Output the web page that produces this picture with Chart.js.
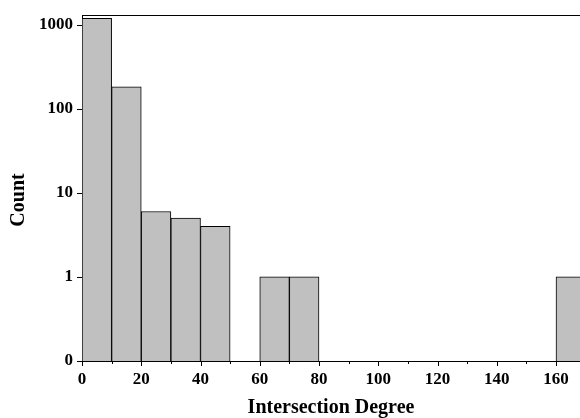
<!DOCTYPE html>
<html>
<head>
<meta charset="utf-8">
<script src="https://cdn.jsdelivr.net/npm/chart.js@4/dist/chart.umd.min.js"></script>
<style>
html,body{margin:0;padding:0;background:#fff;}
#wrap{width:580px;height:418px;}
</style>
</head>
<body>
<div id="wrap"><canvas id="c" width="580" height="418"></canvas></div>
<script>
// Histogram bins (start of each 10-wide bin) and counts
const binStarts = [0, 10, 20, 30, 40, 60, 70, 160];
const binWidth = 10;
const counts = [1190, 182, 6, 5, 4, 1, 1, 1];
// y tick labels (decades, with 0 one step below 1)
const yTickLabels = ['0', '1', '10', '100', '1000'];
const xMajorTicks = [0, 20, 40, 60, 80, 100, 120, 140, 160];
const yTitle = 'Count';
const xTitle = 'Intersection Degree';

// Axis transform: 0 -> 0, otherwise log10(v)+1
const tr = v => v > 0 ? Math.log10(v) + 1 : 0;

const data = binStarts.map((s, i) => ({x: s + binWidth / 2, y: tr(counts[i])}));

const FONT = "'Liberation Serif', 'Times New Roman', serif";

const tickPlugin = {
  id: 'ticks',
  afterDraw(chart) {
    const {ctx, chartArea} = chart;
    const xs = chart.scales.x, ys = chart.scales.y;
    ctx.save();
    ctx.strokeStyle = '#000';
    ctx.lineWidth = 1;
    // top border
    ctx.beginPath();
    ctx.moveTo(chartArea.left, chartArea.top + 0.5);
    ctx.lineTo(chartArea.right, chartArea.top + 0.5);
    ctx.stroke();
    // y ticks
    for (let v = 0; v < yTickLabels.length; v++) {
      const py = Math.round(ys.getPixelForValue(v)) + 0.5;
      ctx.beginPath();
      ctx.moveTo(chartArea.left - 5, py);
      ctx.lineTo(chartArea.left, py);
      ctx.stroke();
    }
    // x ticks major & minor
    for (let v = 0; v <= xs.max; v += 10) {
      const px = Math.round(xs.getPixelForValue(v)) + 0.5;
      const len = (v % 20 === 0) ? 5 : 3;
      ctx.beginPath();
      ctx.moveTo(px, chartArea.bottom);
      ctx.lineTo(px, chartArea.bottom + len);
      ctx.stroke();
    }
    // y axis title
    ctx.fillStyle = '#000';
    ctx.font = 'bold 20px ' + FONT;
    ctx.textAlign = 'center';
    ctx.textBaseline = 'middle';
    ctx.translate(19, 200);
    ctx.rotate(-Math.PI / 2);
    ctx.fillText(yTitle, 0, 0);
    ctx.restore();
  }
};

new Chart(document.getElementById('c'), {
  type: 'bar',
  data: {
    datasets: [{
      data: data,
      backgroundColor: '#c0c0c0',
      borderColor: '#000',
      borderWidth: 1,
      borderSkipped: 'bottom',
      barPercentage: 1,
      categoryPercentage: 1
    }]
  },
  options: {
    responsive: false,
    animation: false,
    devicePixelRatio: 1,
    layout: {padding: {top: 15, left: 0, right: 0, bottom: 0}},
    plugins: {legend: {display: false}, tooltip: {enabled: false}},
    scales: {
      x: {
        type: 'linear',
        offset: false,
        min: 0,
        max: 168.1,
        afterFit(s) { s.height = 57; s.paddingLeft = 0; s.paddingRight = 0; },
        afterBuildTicks(s) { s.ticks = xMajorTicks.map(v => ({value: v})); },
        grid: {display: false, drawTicks: false},
        border: {display: true, color: '#000', width: 1},
        ticks: {
          includeBounds: false,
          padding: 8,
          color: '#000',
          maxRotation: 0,
          autoSkip: false,
          font: {family: FONT, size: 17, weight: 'bold'}
        },
        title: {
          display: true,
          text: xTitle,
          color: '#000',
          padding: {top: 0, bottom: 0},
          font: {family: FONT, size: 20, weight: 'bold', lineHeight: 1}
        }
      },
      y: {
        type: 'linear',
        min: 0,
        max: 4.116,
        afterFit(s) { s.width = 82; s.paddingTop = 0; s.paddingBottom = 0; },
        afterBuildTicks(s) { s.ticks = yTickLabels.map((_, i) => ({value: i})); },
        grid: {display: false, drawTicks: false},
        border: {display: true, color: '#000', width: 1},
        ticks: {
          includeBounds: false,
          padding: 9,
          color: '#000',
          autoSkip: false,
          font: {family: FONT, size: 17, weight: 'bold'},
          callback: v => yTickLabels[v] !== undefined ? yTickLabels[v] : ''
        },
        title: {display: false}
      }
    }
  },
  plugins: [tickPlugin]
});
</script>
</body>
</html>
